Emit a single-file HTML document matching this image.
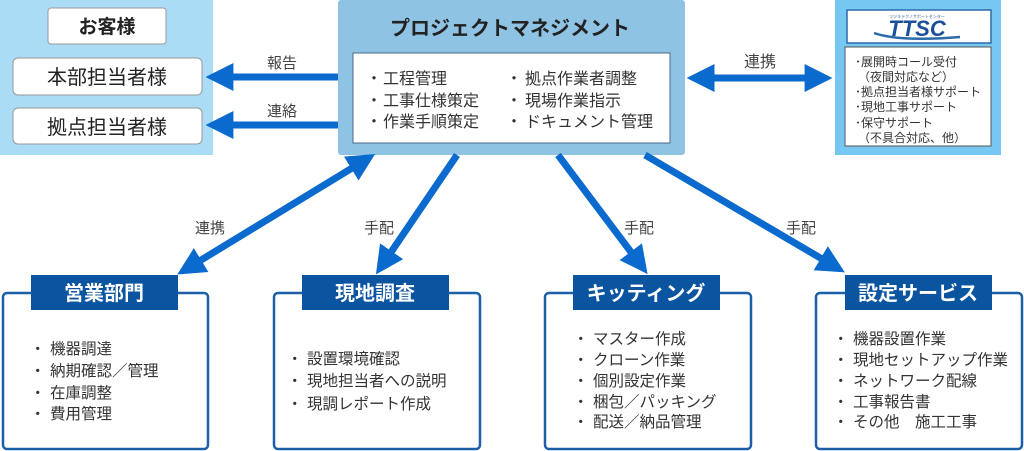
<!DOCTYPE html>
<html><head><meta charset="utf-8"><style>
html,body{margin:0;padding:0;background:#fff;}
svg{display:block;}
text{font-family:"Liberation Sans","Noto Sans CJK JP",sans-serif;}
</style></head><body>
<svg width="1024" height="451" viewBox="0 0 1024 451" xmlns="http://www.w3.org/2000/svg">
<defs>
<marker id="ah" markerWidth="4" markerHeight="4" refX="2.2" refY="2" orient="auto" markerUnits="strokeWidth">
<path d="M0,0 L4,2 L0,4 z" fill="#0a6acd"/></marker>
<marker id="ahs" markerWidth="4" markerHeight="4" refX="1.8" refY="2" orient="auto-start-reverse" markerUnits="strokeWidth">
<path d="M0,0 L4,2 L0,4 z" fill="#0a6acd"/></marker>
</defs>
<!-- customer panel -->
<rect x="0" y="0" width="213" height="155" fill="#aadcf6"/>
<rect x="48" y="8" width="118" height="36" rx="3" fill="#fff" stroke="#999" stroke-width="1"/>
<text x="107" y="33" font-size="19" font-weight="bold" text-anchor="middle" fill="#222">お客様</text>
<rect x="13" y="58" width="189" height="37" rx="5" fill="#fff" stroke="#999"/>
<text x="107" y="84" font-size="20" text-anchor="middle" fill="#222">本部担当者様</text>
<rect x="13" y="108" width="189" height="36" rx="5" fill="#fff" stroke="#999"/>
<text x="107" y="134" font-size="20" text-anchor="middle" fill="#222">拠点担当者様</text>
<!-- PM -->
<rect x="338" y="0" width="347" height="155" rx="3" fill="#8fc3e4"/>
<text x="510" y="35" font-size="20" font-weight="bold" text-anchor="middle" fill="#222">プロジェクトマネジメント</text>
<rect x="353" y="53" width="317" height="90" fill="#fff" stroke="#4a6a8a"/>
<g font-size="16" fill="#333">
<text x="366" y="84">・</text><text x="383" y="84">工程管理</text>
<text x="366" y="106">・</text><text x="383" y="106">工事仕様策定</text>
<text x="366" y="127">・</text><text x="383" y="127">作業手順策定</text>
<text x="506" y="84">・</text><text x="525" y="84">拠点作業者調整</text>
<text x="506" y="106">・</text><text x="525" y="106">現場作業指示</text>
<text x="506" y="127">・</text><text x="525" y="127">ドキュメント管理</text>
</g>
<!-- TTSC -->
<rect x="835" y="0" width="166" height="155" fill="#76c8f2"/>
<rect x="847" y="10" width="144" height="33" fill="#fff" stroke="#2a6aa8" stroke-width="1.5"/>
<text x="917" y="18" font-size="4" text-anchor="middle" fill="#2a5aa0">ツツキテクノサポートセンター</text>
<path d="M874,33 Q900,42 960,37" stroke="#2a6aa8" stroke-width="2.5" fill="none"/>
<text x="917" y="36" font-size="22" font-weight="bold" font-style="italic" text-anchor="middle" fill="#1a4f9a" font-family="Liberation Serif,serif">TTSC</text>
<rect x="845" y="47" width="146" height="99" fill="#fff" stroke="#555"/>
<g font-size="12" fill="#333">
<text x="855" y="66">･展開時コール受付</text>
<text x="858" y="81">（夜間対応など）</text>
<text x="855" y="96">･拠点担当者様サポート</text>
<text x="855" y="111">･現地工事サポート</text>
<text x="855" y="127">･保守サポート</text>
<text x="858" y="142">（不具合対応、他）</text>
</g>
<!-- horizontal arrows -->
<line x1="338" y1="77" x2="218" y2="77" stroke="#0a6acd" stroke-width="7" marker-end="url(#ah)"/>
<line x1="338" y1="125" x2="218" y2="125" stroke="#0a6acd" stroke-width="7" marker-end="url(#ah)"/>
<text x="282" y="68" font-size="15" text-anchor="middle" fill="#444">報告</text>
<text x="282" y="116" font-size="15" text-anchor="middle" fill="#444">連絡</text>
<line x1="702" y1="78" x2="820" y2="78" stroke="#0a6acd" stroke-width="7" marker-start="url(#ahs)" marker-end="url(#ah)"/>
<text x="760" y="67" font-size="16" text-anchor="middle" fill="#444">連携</text>
<!-- diagonal arrows -->
<g stroke="#0a6acd" stroke-width="7">
<line x1="362" y1="162" x2="188" y2="268" marker-start="url(#ahs)" marker-end="url(#ah)"/>
<line x1="457" y1="155" x2="383" y2="264" marker-end="url(#ah)"/>
<line x1="558" y1="155" x2="640" y2="264" marker-end="url(#ah)"/>
<line x1="645" y1="155" x2="834" y2="266" marker-end="url(#ah)"/>
</g>
<g font-size="15" fill="#444" text-anchor="middle">
<text x="210" y="233">連携</text>
<text x="379" y="233">手配</text>
<text x="639" y="233">手配</text>
<text x="801" y="233">手配</text>
</g>
<!-- bottom boxes -->
<g fill="#fff" stroke="#1a5fa8" stroke-width="2.5">
<rect x="3" y="293" width="205" height="156" rx="4"/>
<rect x="274" y="293" width="206" height="156" rx="4"/>
<rect x="545" y="293" width="206" height="156" rx="4"/>
<rect x="816" y="293" width="206" height="156" rx="4"/>
</g>
<g fill="#0b55a0">
<rect x="31" y="275" width="147" height="35"/>
<rect x="302" y="275" width="147" height="35"/>
<rect x="573" y="275" width="147" height="35"/>
<rect x="845" y="275" width="147" height="35"/>
</g>
<g font-size="20" font-weight="bold" fill="#fff" text-anchor="middle">
<text x="104" y="300">営業部門</text>
<text x="375" y="300">現地調査</text>
<text x="646" y="300">キッティング</text>
<text x="918" y="300">設定サービス</text>
</g>
<g font-size="15.5" fill="#333">
<text x="30" y="354">・</text><text x="50" y="354">機器調達</text>
<text x="30" y="376">・</text><text x="50" y="376">納期確認／管理</text>
<text x="30" y="398">・</text><text x="50" y="398">在庫調整</text>
<text x="30" y="419">・</text><text x="50" y="419">費用管理</text>

<text x="287" y="364">・</text><text x="307" y="364">設置環境確認</text>
<text x="287" y="386">・</text><text x="307" y="386">現地担当者への説明</text>
<text x="287" y="409">・</text><text x="307" y="409">現調レポート作成</text>

<text x="573" y="344">・</text><text x="593" y="344">マスター作成</text>
<text x="573" y="365">・</text><text x="593" y="365">クローン作業</text>
<text x="573" y="386">・</text><text x="593" y="386">個別設定作業</text>
<text x="573" y="407">・</text><text x="593" y="407">梱包／パッキング</text>
<text x="573" y="427">・</text><text x="593" y="427">配送／納品管理</text>

<text x="833" y="344">・</text><text x="853" y="344">機器設置作業</text>
<text x="833" y="365">・</text><text x="853" y="365">現地セットアップ作業</text>
<text x="833" y="386">・</text><text x="853" y="386">ネットワーク配線</text>
<text x="833" y="407">・</text><text x="853" y="407">工事報告書</text>
<text x="833" y="427">・</text><text x="853" y="427">その他　施工工事</text>
</g>
</svg>
</body></html>
